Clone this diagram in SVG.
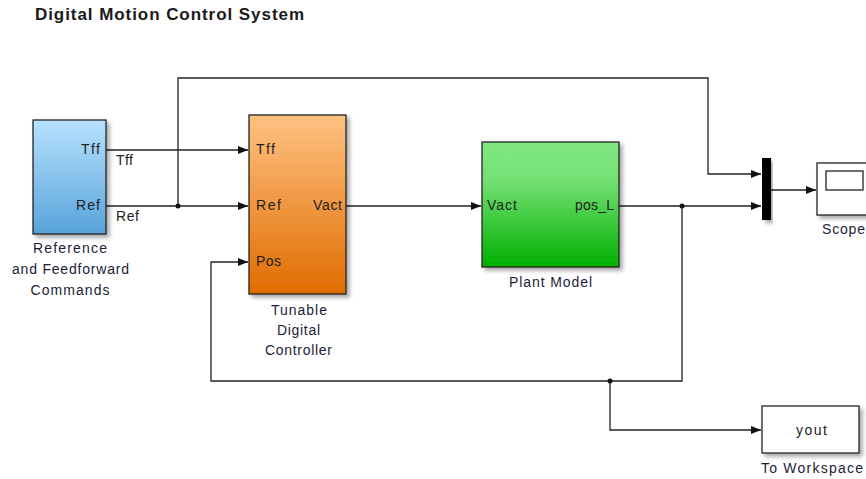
<svg xmlns="http://www.w3.org/2000/svg" width="866" height="479" viewBox="0 0 866 479">
<style>
text{font-family:"Liberation Sans",Arial,sans-serif;font-size:14px;fill:#222}
.title{font-size:17px;font-weight:bold;fill:#1a1a1a}
.blk{stroke:#222;stroke-width:1.3}
.ln{fill:none;stroke:#222;stroke-width:1.3}
.cap{text-anchor:middle;fill:#1c1c38}
</style>
<defs>
<linearGradient id="gBlue" x1="0" y1="0" x2="0" y2="1"><stop offset="0" stop-color="#b8e2ff"/><stop offset="1" stop-color="#57a3da"/></linearGradient>
<linearGradient id="gOrange" x1="0" y1="0" x2="0" y2="1"><stop offset="0" stop-color="#ffc283"/><stop offset="1" stop-color="#e06c00"/></linearGradient>
<linearGradient id="gGreen" x1="0" y1="0" x2="0" y2="1"><stop offset="0" stop-color="#82e882"/><stop offset="0.3" stop-color="#74e074"/><stop offset="1" stop-color="#00b000"/></linearGradient>
<filter id="sh" x="-10%" y="-10%" width="130%" height="130%"><feGaussianBlur in="SourceAlpha" stdDeviation="2"/><feOffset dx="3" dy="3"/><feComponentTransfer><feFuncA type="linear" slope="0.35"/></feComponentTransfer><feMerge><feMergeNode/><feMergeNode in="SourceGraphic"/></feMerge></filter>
<marker id="arr" markerWidth="10" markerHeight="8" refX="10" refY="4" orient="auto" markerUnits="userSpaceOnUse"><path d="M0,0 L10,4 L0,8 Z" fill="#111"/></marker>
</defs>
<rect width="866" height="479" fill="#fff"/>
<text class="title" x="35" y="20" textLength="269" lengthAdjust="spacing">Digital Motion Control System</text>

<g id="connectors">
<path class="ln" d="M106,150 H248" marker-end="url(#arr)"/>
<path class="ln" d="M106,206 H248" marker-end="url(#arr)"/>
<path class="ln" d="M178,206 V78 H708 V174 H761" marker-end="url(#arr)"/>
<path class="ln" d="M346,206 H481" marker-end="url(#arr)"/>
<path class="ln" d="M619,206 H761" marker-end="url(#arr)"/>
<path class="ln" d="M682,206 V381 H211 V262 H248" marker-end="url(#arr)"/>
<path class="ln" d="M610,381 V430 H761" marker-end="url(#arr)"/>
<path class="ln" d="M771,190 H816" marker-end="url(#arr)"/>
<circle cx="178" cy="206" r="2.5" fill="#111"/>
<circle cx="682" cy="206" r="2.5" fill="#111"/>
<circle cx="610" cy="381" r="2.5" fill="#111"/>
<text x="116" y="165" textLength="17" lengthAdjust="spacing">Tff</text>
<text x="116" y="221" textLength="23" lengthAdjust="spacing">Ref</text>
</g>

<g id="reference">
<rect class="blk" x="33" y="120" width="73" height="114" fill="url(#gBlue)" filter="url(#sh)"/>
<text x="81" y="154" textLength="19" lengthAdjust="spacing">Tff</text>
<text x="76" y="210" textLength="24" lengthAdjust="spacing">Ref</text>
<text class="cap" x="70" y="253" textLength="74" lengthAdjust="spacing">Reference</text>
<text class="cap" x="70.5" y="274" textLength="117" lengthAdjust="spacing">and Feedforward</text>
<text class="cap" x="70" y="295" textLength="79" lengthAdjust="spacing">Commands</text>
</g>

<g id="controller">
<rect class="blk" x="249" y="115" width="97" height="179" fill="url(#gOrange)" filter="url(#sh)"/>
<text x="256" y="154" textLength="19" lengthAdjust="spacing">Tff</text>
<text x="256" y="210" textLength="25" lengthAdjust="spacing">Ref</text>
<text x="256" y="266" textLength="25" lengthAdjust="spacing">Pos</text>
<text x="313" y="210" textLength="29" lengthAdjust="spacing">Vact</text>
<text class="cap" x="299" y="315" textLength="56" lengthAdjust="spacing">Tunable</text>
<text class="cap" x="298.5" y="335" textLength="43" lengthAdjust="spacing">Digital</text>
<text class="cap" x="298.5" y="355" textLength="67" lengthAdjust="spacing">Controller</text>
</g>

<g id="plant">
<rect class="blk" x="482" y="142" width="137" height="125" fill="url(#gGreen)" filter="url(#sh)"/>
<text x="487" y="210" textLength="30" lengthAdjust="spacing">Vact</text>
<text x="575" y="210" textLength="39" lengthAdjust="spacing">pos_L</text>
<text class="cap" x="550.5" y="287" textLength="83" lengthAdjust="spacing">Plant Model</text>
</g>

<g id="mux">
<rect x="762" y="158" width="9" height="62" fill="#000" filter="url(#sh)"/>
</g>

<g id="scope">
<rect class="blk" x="817" y="163" width="55" height="52" fill="#fff" filter="url(#sh)"/>
<rect class="blk" x="826" y="171" width="37" height="19" fill="#fff"/>
<text x="822" y="234" textLength="43" lengthAdjust="spacing" style="fill:#1c1c38">Scope</text>
</g>

<g id="toworkspace">
<rect class="blk" x="762" y="406" width="97" height="47" fill="#fff" filter="url(#sh)"/>
<text x="796" y="435" textLength="31" lengthAdjust="spacing">yout</text>
<text class="cap" x="812" y="473" textLength="102" lengthAdjust="spacing">To Workspace</text>
</g>
</svg>
